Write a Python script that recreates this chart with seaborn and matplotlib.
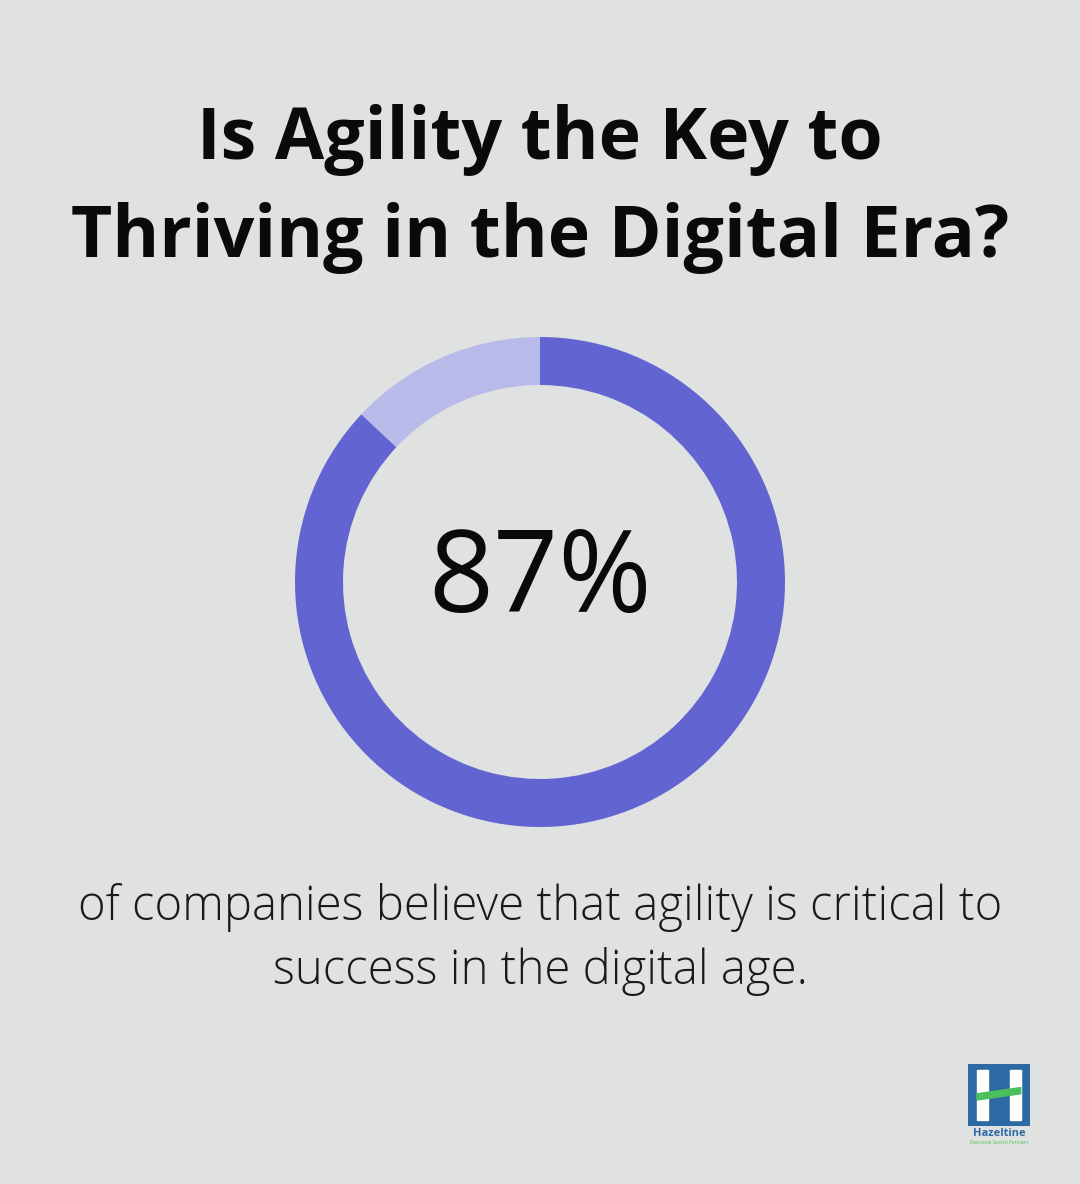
import matplotlib
matplotlib.use("Agg")
import matplotlib.pyplot as plt
import matplotlib.patches as mpatches
import seaborn as sns

title_lines = ["Is Agility the Key to", "Thriving in the Digital Era?"]
labels = ["Agility critical", "Other"]
values = [87, 13]
center_text = "87%"
caption_lines = ["of companies believe that agility is critical to", "success in the digital age."]
logo_text = "Hazeltine"
logo_sub = "Executive Search Partners"

bg = "#e0e2e1"
colors = ["#6264d2", "#b8bbea"]

sns.set_theme(style="white", rc={"font.family": "Open Sans"})
fig = plt.figure(figsize=(10.8, 11.84), dpi=100, facecolor=bg)

fig.text(0.5, 1 - 140/1184, title_lines[0], ha="center", va="center", fontsize=51.5, fontweight="bold", color="#0a0a0a")
fig.text(0.5, 1 - 238/1184, title_lines[1], ha="center", va="center", fontsize=51.5, fontweight="bold", color="#0a0a0a")

# donut: center (540,582), outer r 245
r = 245
ax = fig.add_axes([(540 - r)/1080, 1 - (582 + r)/1184, 2*r/1080, 2*r/1184])
ax.set_facecolor(bg)
ax.pie(values, colors=colors, startangle=90, counterclock=False,
       wedgeprops=dict(width=48/245, edgecolor="none"))
ax.set_xlim(-1, 1); ax.set_ylim(-1, 1)
ax.set_aspect("equal")
ax.text(0, 0, center_text, ha="center", va="center", fontsize=82, fontweight="medium", color="#0a0a0a")

fig.text(0.5, 1 - 908/1184, caption_lines[0], ha="center", va="center", fontsize=34, fontweight="light", color="#1a1a1a")
fig.text(0.5, 1 - 972/1184, caption_lines[1], ha="center", va="center", fontsize=34, fontweight="light", color="#1a1a1a")

# logo
lx = fig.add_axes([968/1080, 1 - 1126/1184, 62/1080, 62/1184])
lx.set_xlim(0, 1); lx.set_ylim(0, 1); lx.axis("off")
lx.add_patch(mpatches.Rectangle((0, 0), 1, 1, color="#2d6aa3"))
lx.add_patch(mpatches.Rectangle((0.15, 0.1), 0.18, 0.8, color="white"))
lx.add_patch(mpatches.Rectangle((0.67, 0.1), 0.18, 0.8, color="white"))
lx.add_patch(mpatches.Polygon([(0.15, 0.42), (0.85, 0.52), (0.85, 0.62), (0.15, 0.52)], color="#4cc05a"))
fig.text(999/1080, 1 - 1133/1184, logo_text, ha="center", va="center", fontsize=8, fontweight="bold", color="#2d6aa3")
fig.text(999/1080, 1 - 1142/1184, logo_sub, ha="center", va="center", fontsize=3.5, color="#4cc05a")

fig.savefig("out.png", dpi=100, facecolor=bg)
